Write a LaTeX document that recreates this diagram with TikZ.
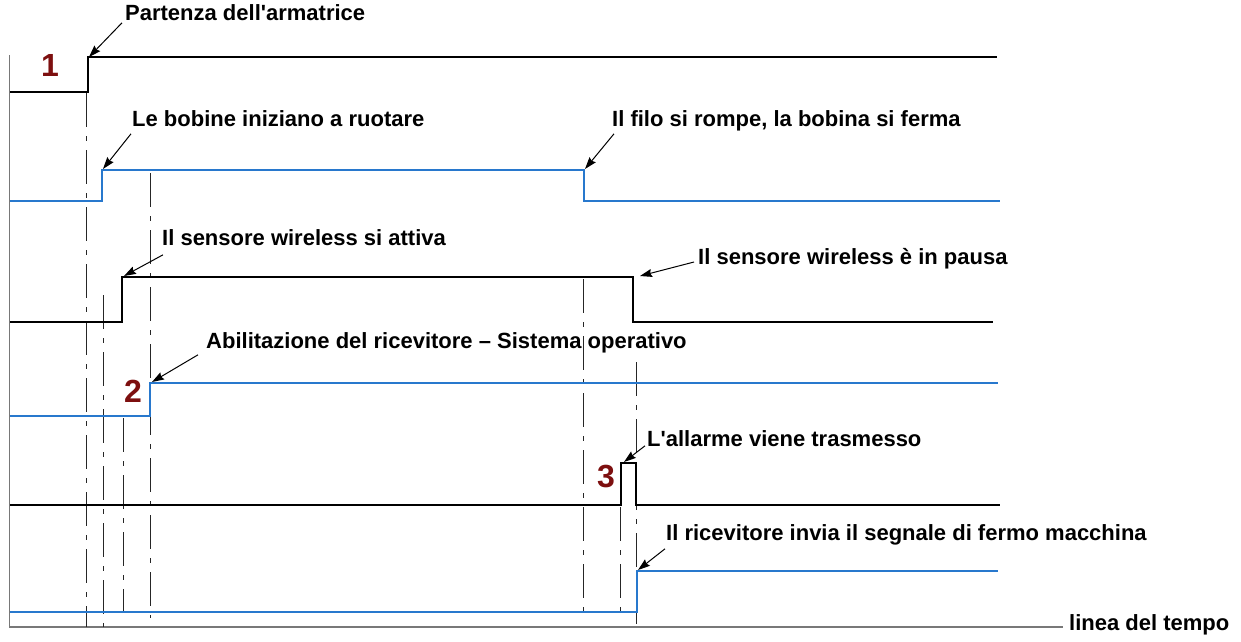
\documentclass[tikz,border=0pt]{standalone}
\usepackage{fontspec}
\setmainfont{Liberation Sans}
\usetikzlibrary{arrows.meta}
\definecolor{sigblue}{RGB}{40,120,205}
\definecolor{numred}{RGB}{125,15,15}
\definecolor{axisgray}{RGB}{120,120,120}
\tikzset{
  lbl/.style={anchor=west,inner sep=0pt,text height=0.72em,text depth=0pt,font=\fontsize{22}{25}\selectfont\bfseries},
  num/.style={inner sep=0pt,text height=0.72em,text depth=0pt,text=numred,font=\fontsize{32}{36}\selectfont\bfseries},
  sigk/.style={line width=2.2pt,black,line join=miter},
  sigb/.style={line width=2.2pt,sigblue,line join=miter},
  arr/.style={line width=1pt,-{Stealth[length=12pt,width=8pt,inset=1.5pt]}},
  guide/.style={line width=1pt,black!85,dash pattern=on 34pt off 9pt on 5pt off 9pt},
  axisline/.style={line width=1.6pt,axisgray}
}
\begin{document}
\begin{tikzpicture}[x=1pt,y=-1pt]
\useasboundingbox (0,0) rectangle (1241,641);
% axes
\coordinate (ax0) at (9.5,55);
\coordinate (ax1) at (9.5,627);
\coordinate (ax2) at (1063,627);
\draw[axisline] (ax0) -- (ax1) -- (ax2);
\node[lbl] (L9) at (1069,627) {linea del tempo};

% signal corners
\coordinate (c1) at (88,57);
\coordinate (c2) at (102,170);
\coordinate (c3) at (584,170);
\coordinate (c4) at (122,277);
\coordinate (c5) at (633,277);
\coordinate (c6) at (150,383);
\coordinate (c7) at (621,463);
\coordinate (c8) at (637,571);

% dash-dot guides
\draw[guide] (86,93) coordinate (g1a) -- (86,627) coordinate (g1b);
\draw[guide] (103,295) coordinate (g2a) -- (103,627) coordinate (g2b);
\draw[guide] (123,418) coordinate (g3a) -- (123,612) coordinate (g3b);
\draw[guide] (150,173) coordinate (g4a) -- (150,618) coordinate (g4b);
\draw[guide] (583,279) coordinate (g5a) -- (583,620) coordinate (g5b);
\draw[guide] (620,507) coordinate (g6a) -- (620,612) coordinate (g6b);
\draw[guide] (636,362) coordinate (g7a) -- (636,627) coordinate (g7b);

% signals
\draw[sigk] (10,92) -- (88,92) -- (c1) -- (997,57);
\draw[sigb] (10,201) -- (102,201) -- (c2) -- (c3) -- (584,201) -- (1000,201);
\draw[sigk] (10,322) -- (122,322) -- (c4) -- (c5) -- (633,322) -- (993,322);
\draw[sigb] (10,416) -- (150,416) -- (c6) -- (998,383);
\draw[sigk] (10,505) -- (621,505) -- (c7) -- (636,463) -- (636,505) -- (1000,505);
\draw[sigb] (10,612) -- (637,612) -- (c8) -- (998,571);

% numbers
\node[num] (n1) at (50,73) {1};
\node[num] (n2) at (133,399) {2};
\node[num] (n3) at (606,484) {3};

% labels
\node[lbl] (L1) at (125,17) {Partenza dell\textquotesingle armatrice};
\node[lbl] (L2) at (132,123) {Le bobine iniziano a ruotare};
\node[lbl] (L3) at (612,123) {Il filo si rompe, la bobina si ferma};
\node[lbl] (L4) at (162,242) {Il sensore wireless si attiva};
\node[lbl] (L5) at (698,261) {Il sensore wireless è in pausa};
\node[lbl] (L6) at (206,345) {Abilitazione del ricevitore – Sistema operativo};
\node[lbl] (L7) at (647,443) {L\textquotesingle allarme viene trasmesso};
\node[lbl] (L8) at (666,537) {Il ricevitore invia il segnale di fermo macchina};

% arrows
\draw[arr] ([shift={(-3,2)}]L1.south west) -- ([shift={(1,0)}]c1);
\draw[arr] ([shift={(-1,7)}]L2.south west) -- ([shift={(1,-1)}]c2);
\draw[arr] ([shift={(2,7)}]L3.south west) -- ([shift={(1,-1)}]c3);
\draw[arr] ([shift={(1,9)}]L4.south west) -- ([shift={(2,-1)}]c4);
\draw[arr] ([shift={(-4,1)}]L5.west) -- ([shift={(7,-1)}]c5);
\draw[arr] ([shift={(-8,6)}]L6.south west) -- ([shift={(2,-1)}]c6);
\draw[arr] ([shift={(-2,-1)}]L7.south west) -- ([shift={(3,-1)}]c7);
\draw[arr] ([shift={(-1,8)}]L8.south west) -- ([shift={(1,-1)}]c8);
\end{tikzpicture}
\end{document}
